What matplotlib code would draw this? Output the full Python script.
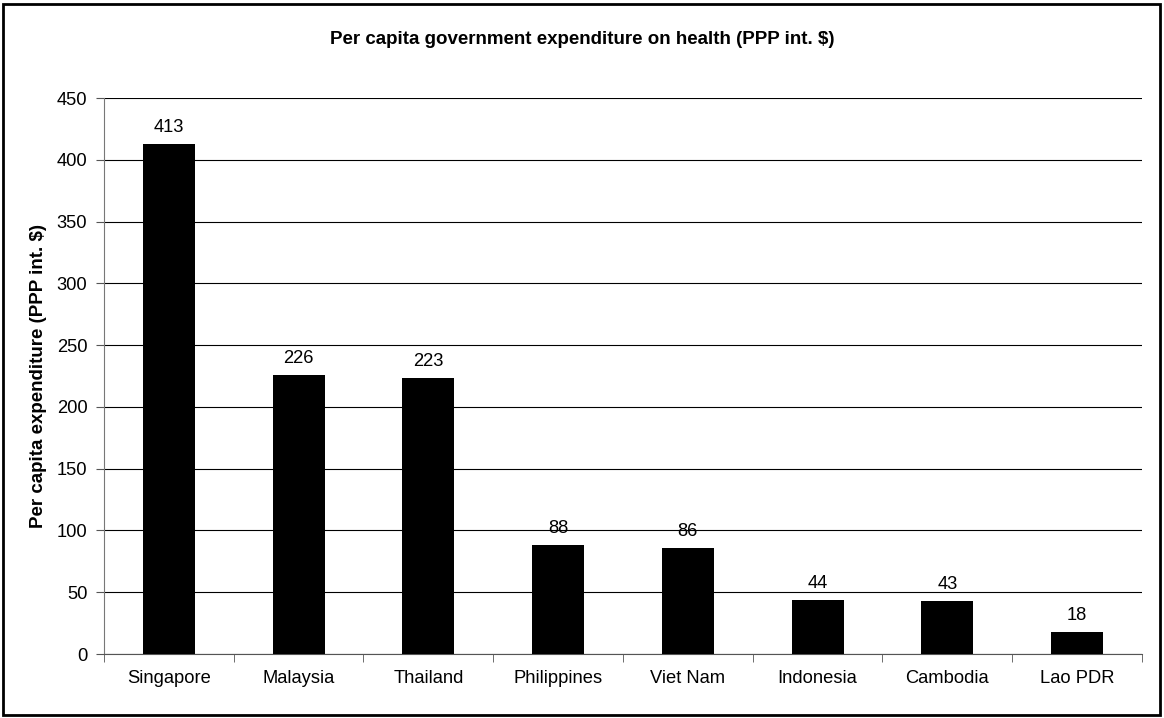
import matplotlib
matplotlib.use("Agg")
import matplotlib.pyplot as plt
from matplotlib.patches import Rectangle

# data
countries = ["Singapore", "Malaysia", "Thailand", "Philippines", "Viet Nam",
             "Indonesia", "Cambodia", "Lao PDR"]
spending = [413, 226, 223, 88, 86, 44, 43, 18]
y_ticks = [0, 50, 100, 150, 200, 250, 300, 350, 400, 450]

plt.rcParams["font.family"] = ["Liberation Sans", "DejaVu Sans"]

fig = plt.figure(figsize=(11.64, 7.18), dpi=100)
ax = fig.add_axes([0.0893, 0.0891, 0.8918, 0.7744])

pos = range(len(countries))
ax.bar(pos, spending, width=0.4, color="black", zorder=3)
for p, v in zip(pos, spending):
    ax.annotate(str(v), (p, v), xytext=(0, 12), textcoords="offset pixels",
                ha="center", va="baseline", fontsize=13.2)

ax.set_xlim(-0.5, len(countries) - 0.5)
ax.set_ylim(0, 450)
ax.set_yticks(y_ticks)
ax.set_xticks(pos)
ax.set_xticklabels(countries, fontsize=13.2)
ax.tick_params(axis="x", length=0, pad=11.5)
ax.set_xticks([p - 0.5 for p in range(len(countries) + 1)], minor=True)
ax.tick_params(axis="x", which="minor", length=6, color="#555555")
ax.tick_params(axis="y", labelsize=13.2, length=6, color="#555555", pad=6)
ax.yaxis.grid(True, color="black", linewidth=0.8)
ax.set_axisbelow(True)
for side in ["top", "right"]:
    ax.spines[side].set_visible(False)
ax.spines["left"].set_color("#777777")
ax.spines["bottom"].set_color("#555555")

fig.text(39 / 1164, 1 - 376 / 718, "Per capita expenditure (PPP int. $)",
         rotation=90, ha="center", va="center", fontsize=13.5,
         fontweight="bold")
fig.text(0.5, 1 - 40 / 718,
         "Per capita government expenditure on health (PPP int. $)",
         ha="center", va="center", fontsize=13.5, fontweight="bold")

# outer chart border
fig.patches.append(Rectangle((3 / 1164, 3 / 718), 1157 / 1164, 711 / 718,
                             transform=fig.transFigure, fill=False,
                             edgecolor="black", linewidth=2))

plt.savefig("out.png", dpi=100)
